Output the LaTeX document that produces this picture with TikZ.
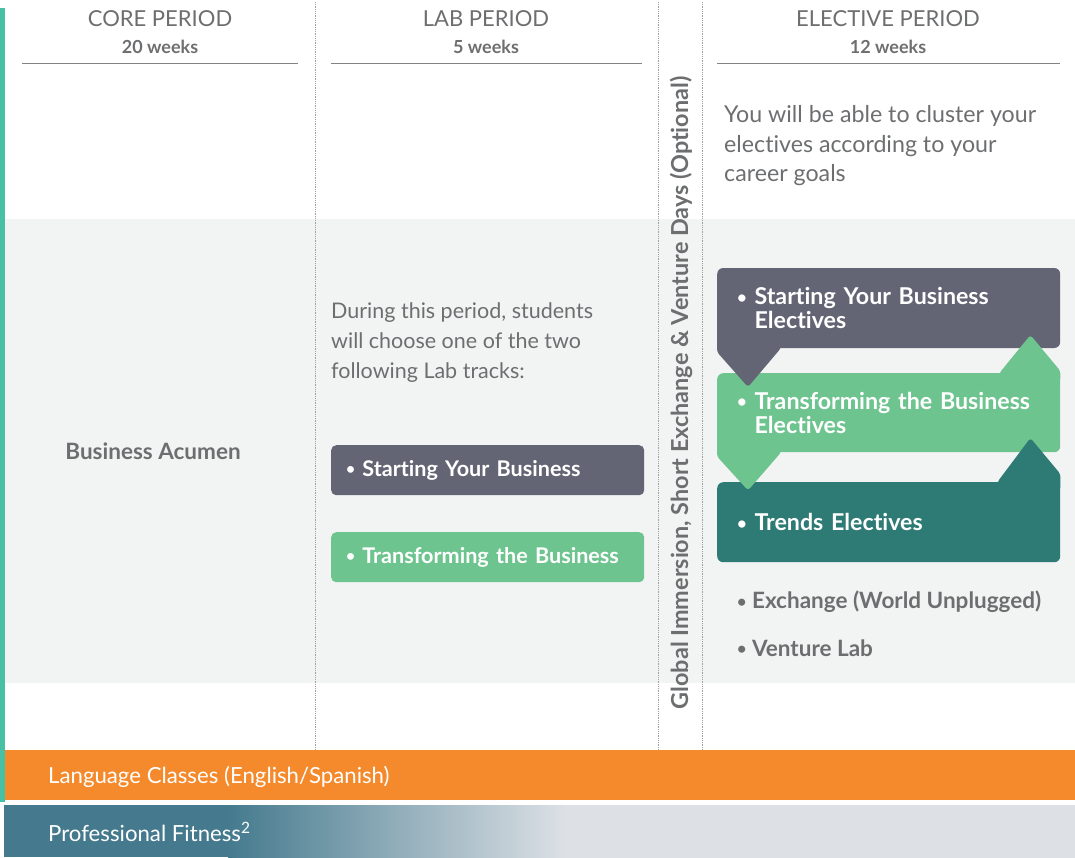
\documentclass[tikz,border=0pt]{standalone}
\usepackage{fontspec}
\setmainfont{Lato}[Ligatures=NoCommon]
\usetikzlibrary{positioning, calc}
\definecolor{textgray}{RGB}{109, 110, 112}
\definecolor{rulegray}{RGB}{130, 130, 132}
\definecolor{bggray}{RGB}{242, 243, 243}
\definecolor{slate1}{RGB}{99, 101, 116}
\definecolor{green1}{RGB}{109, 196, 143}
\definecolor{teal1}{RGB}{46, 122, 116}
\definecolor{strip1}{RGB}{71, 192, 166}
\definecolor{orange1}{RGB}{244, 138, 44}
\definecolor{blue1}{RGB}{69, 122, 142}
\definecolor{light1}{RGB}{221, 225, 230}
\pgfdeclarehorizontalshading{fitnessfade}{100bp}{color(0bp)=(blue1); color(25bp)=(blue1); color(45bp)=(light1); color(100bp)=(light1)}
\newcommand{\elbul}{\raisebox{0.12ex}{\scalebox{0.72}{•}}}

\begin{document}
\begin{tikzpicture}[x=1pt, y=-1pt,
  head/.style={text=textgray, font=\fontsize{22}{24}\selectfont},
  weeks/.style={text=textgray, font=\fontsize{18}{20}\selectfont\bfseries},
  para/.style={text=textgray, align=left, anchor=west, inner sep=0pt, font=\fontsize{22}{29.5}\selectfont},
  graybold/.style={text=textgray, anchor=west, inner sep=0pt, font=\fontsize{22.5}{24}\selectfont\bfseries},
  labbox/.style={anchor=north west, rounded corners=5pt, text=white, align=left, minimum width=313pt, minimum height=50pt, text width=283pt, inner xsep=15pt, font=\fontsize{21.6}{24}\selectfont\bfseries},
  elbox/.style={anchor=north west, rounded corners=6pt, text=white, align=left, minimum width=343pt, text width=303pt, inner xsep=20pt, font=\fontsize{23.2}{24}\selectfont\bfseries},
  sepline/.style={draw=gray!75, line width=0.8pt, dash pattern=on 0.9pt off 0.9pt},
  headrule/.style={draw=rulegray, line width=1pt},
  bandtext/.style={text=white, anchor=west, inner sep=0pt, font=\fontsize{22.2}{24}\selectfont}]
  \useasboundingbox (0,0) rectangle (1075,857);

  % backgrounds
  \fill[bggray] (5,219) rectangle (1075,683);
  \fill[strip1] (0,8) rectangle (4.5,802);

  % column separators
  \draw[sepline] (315,2) -- (315,750);
  \draw[sepline] (658,2) -- (658,750);
  \draw[sepline] (702,2) -- (702,750);

  % headers
  \node[head] (corehead) at (160,19) {CORE PERIOD};
  \node[weeks] (coreweeks) at (160,47) {20 weeks};
  \draw[headrule] (22,63) -- (298,63);

  \node[head] (labhead) at (486,19) {LAB PERIOD};
  \node[weeks] (labweeks) at (486,47) {5 weeks};
  \draw[headrule] (331,63) -- (642,63);

  \node[head] (elhead) at (888,19) {ELECTIVE PERIOD};
  \node[weeks] (elweeks) at (888,47) {12 weeks};
  \draw[headrule] (717,63) -- (1060,63);

  % core column
  \node[graybold, anchor=center] (acumen) at (153,451) {Business Acumen};

  % lab column
  \node[para, font=\fontsize{21.5}{30}\selectfont] (labtext) at (331,343) {During this period, students\\will choose one of the two\\following Lab tracks:};
  \node[labbox, fill=slate1] (labstart) at (331,445) {\elbul\ Starting Your Business};
  \node[labbox, fill=green1] (labtrans) at (331,532) {\elbul\ Transforming the Business};

  % optional days
  \node[rotate=90, text=textgray, font=\fontsize{23.4}{24}\selectfont\bfseries] (optional) at (681,393) {Global Immersion, Short Exchange \& Venture Days (Optional)};

  % elective column
  \node[para, font=\fontsize{23.2}{29.5}\selectfont] (eltext) at (724,146) {You will be able to cluster your\\electives according to your\\career goals};
  \node[elbox, fill=slate1, minimum height=80pt, yshift=-2pt, outer ysep=0pt] (elstart) at (717,266) {\mbox{\elbul\ Starting Your Business}\\\phantom{\elbul\ }Electives};
  \node[elbox, fill=green1, minimum height=79pt] (eltrans) at (717,373) {\mbox{\elbul\ Transforming the Business}\\\phantom{\elbul\ }Electives};
  \node[elbox, fill=teal1, minimum height=80pt] (eltrend) at (717,482) {\elbul\ Trends Electives};

  % chevrons between the elective boxes
  \fill[slate1, rounded corners=3pt] ($(elstart.south west)+(0,-8)$) -- ($(elstart.south west)+(0,4)$) -- ($(elstart.south west)+(31,39)$) -- ($(elstart.south west)+(64,0)$) -- ($(elstart.south west)+(64,-8)$) -- cycle;
  \fill[green1, rounded corners=3pt] ($(eltrans.north east)+(0,8)$) -- ($(eltrans.north east)+(0,-2)$) -- ($(eltrans.north east)+(-30,-38)$) -- ($(eltrans.north east)+(-61,0)$) -- ($(eltrans.north east)+(-61,8)$) -- cycle;
  \fill[green1, rounded corners=3pt] ($(eltrans.south west)+(0,-8)$) -- ($(eltrans.south west)+(0,4)$) -- ($(eltrans.south west)+(31,38)$) -- ($(eltrans.south west)+(64,0)$) -- ($(eltrans.south west)+(64,-8)$) -- cycle;
  \fill[teal1, rounded corners=3pt] ($(eltrend.north east)+(0,8)$) -- ($(eltrend.north east)+(0,-8)$) -- ($(eltrend.north east)+(-30,-44)$) -- ($(eltrend.north east)+(-63,0)$) -- ($(eltrend.north east)+(-63,8)$) -- cycle;

  \node[graybold] (exchange) at (737,602) {\elbul\ Exchange (World Unplugged)};
  \node[graybold] (venture) at (737,648) {\elbul\ Venture Lab};

  % bottom bands
  \fill[orange1] (5,750) rectangle (1075,800);
  \node[bandtext] (language) at (48,777) {Language Classes (English/Spanish)};
  \fill[blue1] (4,805) rectangle (229,857);
  \shade[shading=fitnessfade] (228,805) rectangle (1075,857);
  \node[bandtext] (fitness) at (48,832) {Professional Fitness\textsuperscript{2}};
\end{tikzpicture}
\end{document}
